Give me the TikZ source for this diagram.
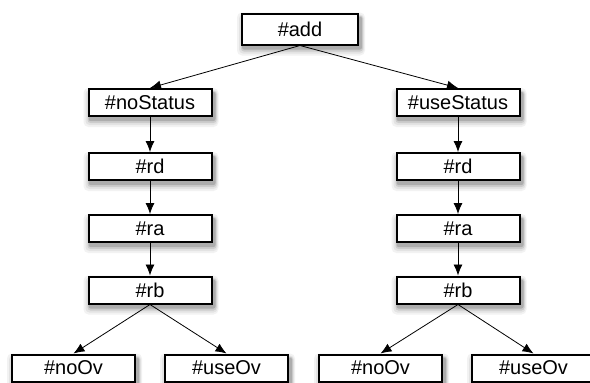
\documentclass[tikz,border=0pt]{standalone}
\usepackage{fontspec}
\setmainfont{Liberation Sans}
\usetikzlibrary{arrows.meta,backgrounds}
\begin{document}
\begin{tikzpicture}[x=1pt,y=-1pt,
  box/.style={draw=black, line width=2pt, fill=white, minimum height=27pt,
    inner sep=0pt, font=\fontsize{20}{20}\selectfont},
  midbox/.style={box, minimum width=123pt},
  leafbox/.style={box, minimum width=123pt},
  link/.style={line width=0.8pt, -{Latex[length=11pt,width=9pt]}}]
  \useasboundingbox (0,0) rectangle (590,383);
  \node[box, minimum width=116pt, minimum height=31pt] (add) at (300,29) {\#add};
  % left branch
  \node[midbox] (ns)  at (150,102.5) {\#noStatus};
  \node[midbox] (rd1) at (150,166.5) {\#rd};
  \node[midbox] (ra1) at (150,228.5) {\#ra};
  \node[midbox] (rb1) at (150,290) {\#rb};
  \node[leafbox] (no1) at (73.5,368) {\#noOv};
  \node[leafbox] (us1) at (226.5,368) {\#useOv};
  % right branch
  \node[midbox] (us)  at (458,102.5) {\#useStatus};
  \node[midbox] (rd2) at (458,166.5) {\#rd};
  \node[midbox] (ra2) at (458,228.5) {\#ra};
  \node[midbox] (rb2) at (458,290) {\#rb};
  \node[leafbox] (no2) at (380.5,368) {\#noOv};
  \node[leafbox] (us2) at (533.5,368) {\#useOv};
  % soft drop shadows, built from stacked grey rectangles behind each box
  \begin{scope}[on background layer]
    \fill[white] (0,0) rectangle (590,383);
    \foreach \n in {add,ns,rd1,ra1,rb1,no1,us1,us,rd2,ra2,rb2,no2,us2}{
      \fill[black!5, rounded corners=5pt]
        ([shift={(-4,0)}]\n.north west) rectangle ([shift={(6,10)}]\n.south east);
      \fill[black!11, rounded corners=4pt]
        ([shift={(-2,2)}]\n.north west) rectangle ([shift={(5,8)}]\n.south east);
      \fill[black!20, rounded corners=3pt]
        ([shift={(0,3)}]\n.north west) rectangle ([shift={(4,6)}]\n.south east);
      \fill[black!32, rounded corners=2pt]
        ([shift={(1,4)}]\n.north west) rectangle ([shift={(3,4)}]\n.south east);
    }
  \end{scope}
  % connectors
  \draw[link] (add.south) -- (ns.north);
  \draw[link] (add.south) -- (us.north);
  \draw[link] (ns) -- (rd1);
  \draw[link] (rd1) -- (ra1);
  \draw[link] (ra1) -- (rb1);
  \draw[link] (rb1.south) -- (no1.north);
  \draw[link] (rb1.south) -- (us1.north);
  \draw[link] (us) -- (rd2);
  \draw[link] (rd2) -- (ra2);
  \draw[link] (ra2) -- (rb2);
  \draw[link] (rb2.south) -- (no2.north);
  \draw[link] (rb2.south) -- (us2.north);
\end{tikzpicture}
\end{document}
